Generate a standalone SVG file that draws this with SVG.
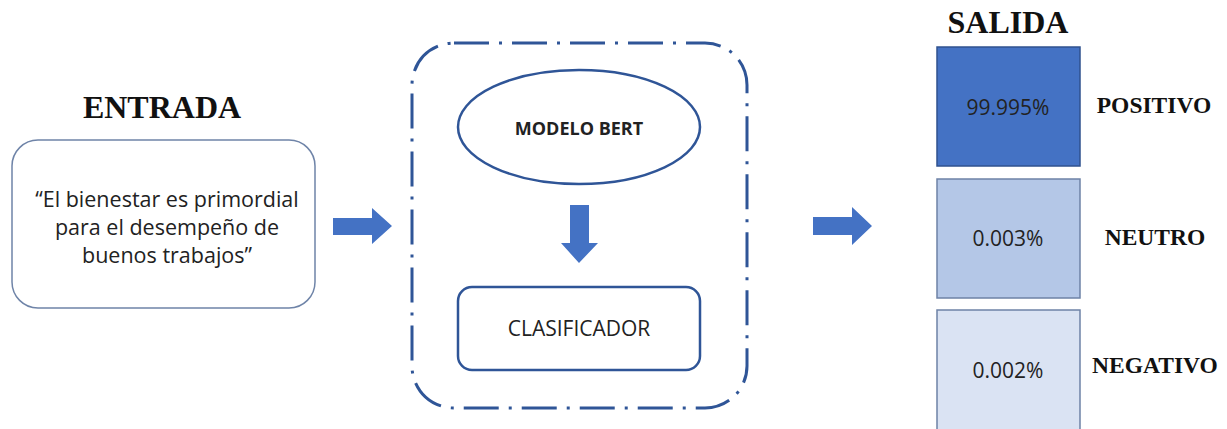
<svg xmlns="http://www.w3.org/2000/svg" width="1227" height="429" viewBox="0 0 1227 429">
<style>
.title{font-family:"Liberation Serif",serif;font-weight:bold;fill:#111;text-anchor:middle}
.lbl{font-family:"Liberation Serif",serif;font-weight:bold;font-size:23.5px;fill:#111;text-anchor:middle;dominant-baseline:central}
.body{font-family:"Open Sans","Liberation Sans",sans-serif;fill:#222;text-anchor:middle;dominant-baseline:central}
.arrow{fill:#4472C4}
</style>
<rect width="1227" height="429" fill="#ffffff"/>
<text class="title" x="162" y="118" font-size="32">ENTRADA</text>
<text class="title" x="1008" y="33" font-size="32">SALIDA</text>
<g id="entrada">
<rect x="12" y="140" width="303" height="168" rx="26" fill="#fff" stroke="#6F84A8" stroke-width="1.5"/>
<text class="body" font-size="21.5"><tspan x="167" y="198">“El bienestar es primordial</tspan><tspan x="167" y="226">para el desempeño de</tspan><tspan x="167" y="254">buenos trabajos”</tspan></text>
</g>
<g id="modelo-container">
<rect x="412" y="43" width="335" height="365" rx="42" fill="none" stroke="#2F5597" stroke-width="3" stroke-dasharray="35 10 3 10"/>
</g>
<g id="bert">
<ellipse cx="579" cy="127" rx="121" ry="57" fill="#fff" stroke="#2F5597" stroke-width="2.5"/>
<text class="body" x="579" y="128" font-size="18" font-weight="bold" fill="#111">MODELO BERT</text>
</g>
<g id="clasificador">
<rect x="458" y="287" width="242" height="83" rx="14" fill="#fff" stroke="#2F5597" stroke-width="2.5"/>
<text class="body" x="579" y="328" font-size="21">CLASIFICADOR</text>
</g>
<g id="positivo">
<rect x="937" y="47" width="143" height="119" fill="#4472C4" stroke="#2F528F" stroke-width="1.5"/>
<text class="body" x="1008" y="107" font-size="21" fill="#1F3864">99.995%</text>
<text class="lbl" x="1154" y="105">POSITIVO</text>
</g>
<g id="neutro">
<rect x="937" y="179" width="143" height="119" fill="#B4C7E7" stroke="#6E82A6" stroke-width="1.5"/>
<text class="body" x="1008" y="238" font-size="21" fill="#1a2540">0.003%</text>
<text class="lbl" x="1155" y="237">NEUTRO</text>
</g>
<g id="negativo">
<rect x="937" y="310" width="143" height="125" fill="#DAE3F3" stroke="#6E82A6" stroke-width="1.5"/>
<text class="body" x="1008" y="370" font-size="21" fill="#1a2540">0.002%</text>
<text class="lbl" x="1155" y="365">NEGATIVO</text>
</g>
<g id="connectors">
<polygon class="arrow" points="333,218 372,218 372,208 392,226 372,244 372,235 333,235"/>
<polygon class="arrow" points="570,205 589,205 589,243 598,243 579,263 561,243 570,243"/>
<polygon class="arrow" points="813,217 852,217 852,207 872,226 852,245 852,235 813,235"/>
</g>
</svg>
